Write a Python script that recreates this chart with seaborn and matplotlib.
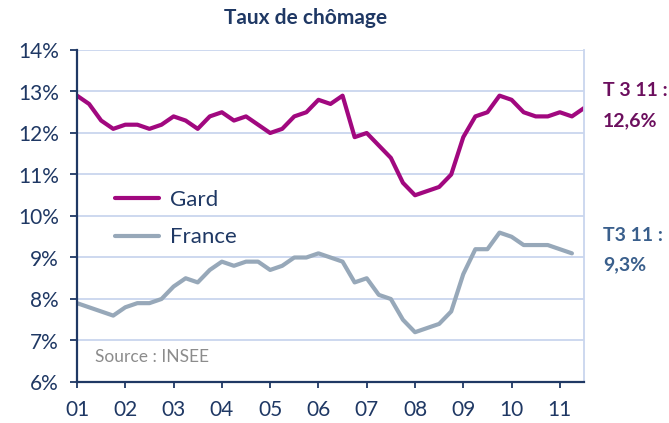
import matplotlib
matplotlib.use('Agg')
import matplotlib.pyplot as plt
import seaborn as sns
import numpy as np
import pandas as pd

# quarterly unemployment rate, 2001 Q1 .. 2011 Q3
gard = [12.9, 12.7, 12.3, 12.1, 12.2, 12.2, 12.1, 12.2, 12.4, 12.3, 12.1,
        12.4, 12.5, 12.3, 12.4, 12.2, 12.0, 12.1, 12.4, 12.5, 12.8, 12.7,
        12.9, 11.9, 12.0, 11.7, 11.4, 10.8, 10.5, 10.6, 10.7, 11.0, 11.9,
        12.4, 12.5, 12.9, 12.8, 12.5, 12.4, 12.4, 12.5, 12.4, 12.6]
france = [7.9, 7.8, 7.7, 7.6, 7.8, 7.9, 7.9, 8.0, 8.3, 8.5, 8.4,
          8.7, 8.9, 8.8, 8.9, 8.9, 8.7, 8.8, 9.0, 9.0, 9.1, 9.0,
          8.9, 8.4, 8.5, 8.1, 8.0, 7.5, 7.2, 7.3, 7.4, 7.7, 8.6,
          9.2, 9.2, 9.6, 9.5, 9.3, 9.3, 9.3, 9.2, 9.1, np.nan]
year_labels = ['01', '02', '03', '04', '05', '06', '07', '08', '09', '10', '11']
y_ticks = [6, 7, 8, 9, 10, 11, 12, 13, 14]

NAVY = '#1F3864'
PURPLE = '#A1087F'
GREY = '#97A8B9'
GRID = '#C9D6EE'

sns.set_style('white')
plt.rcParams['font.family'] = ['Lato', 'DejaVu Sans']

n = len(gard)
df = pd.DataFrame({
    'q': list(range(n)) * 2,
    'taux': gard + france,
    'zone': ['Gard'] * n + ['France'] * n,
})

fig = plt.figure(figsize=(6.69, 4.23), dpi=100)
ax = fig.add_axes([77 / 669, 1 - 382 / 423, (584 - 77) / 669, (382 - 50) / 423])

sns.lineplot(data=df, x='q', y='taux', hue='zone', hue_order=['Gard', 'France'],
             palette=[PURPLE, GREY], linewidth=3, ax=ax)

ax.set_xlim(0, n - 1)
ax.set_ylim(6, 14)
ax.set_yticks(y_ticks)
ax.set_yticklabels([f'{v}%' for v in y_ticks])
ax.set_xticks(range(0, n, 4))
ax.set_xticklabels(year_labels)
ax.set_xlabel('')
ax.set_ylabel('')

ax.grid(axis='y', color=GRID, linewidth=1.3)
ax.set_axisbelow(True)
for s in ['left', 'bottom']:
    ax.spines[s].set_color(NAVY)
    ax.spines[s].set_linewidth(1.6)
ax.spines['top'].set_visible(False)
ax.spines['right'].set_color(GRID)
ax.spines['right'].set_linewidth(1.3)

ax.tick_params(axis='both', colors=NAVY, labelsize=15, length=5, width=1.3,
               direction='out', left=True, bottom=True)
ax.tick_params(axis='y', pad=8)
ax.tick_params(axis='x', length=4, pad=9)

leg = ax.legend(loc='upper left', bbox_to_anchor=(0.035, 0.64), frameon=False,
                fontsize=16, handlelength=2.0, handletextpad=0.5,
                labelspacing=0.8)
for t in leg.get_texts():
    t.set_color(NAVY)

ax.text(0.035, 0.06, 'Source : INSEE', transform=ax.transAxes, color='#8C8C8C',
        fontsize=12.5)

fig.text(306 / 669, 1 - 18 / 423, 'Taux de chômage', ha='center', va='center',
         color=NAVY, fontsize=15, fontweight='bold')

fig.text(603 / 669, 1 - 90 / 423, 'T 3 11 :', color='#6C0F5E', fontsize=14,
         fontweight='bold', va='center')
fig.text(603 / 669, 1 - 121 / 423, '12,6%', color='#6C0F5E', fontsize=14,
         fontweight='bold', va='center')
fig.text(603 / 669, 1 - 235 / 423, 'T3 11 :', color='#3A5F8C', fontsize=14,
         fontweight='bold', va='center')
fig.text(603 / 669, 1 - 265 / 423, '9,3%', color='#3A5F8C', fontsize=14,
         fontweight='bold', va='center')

fig.savefig('out.png', dpi=100)
